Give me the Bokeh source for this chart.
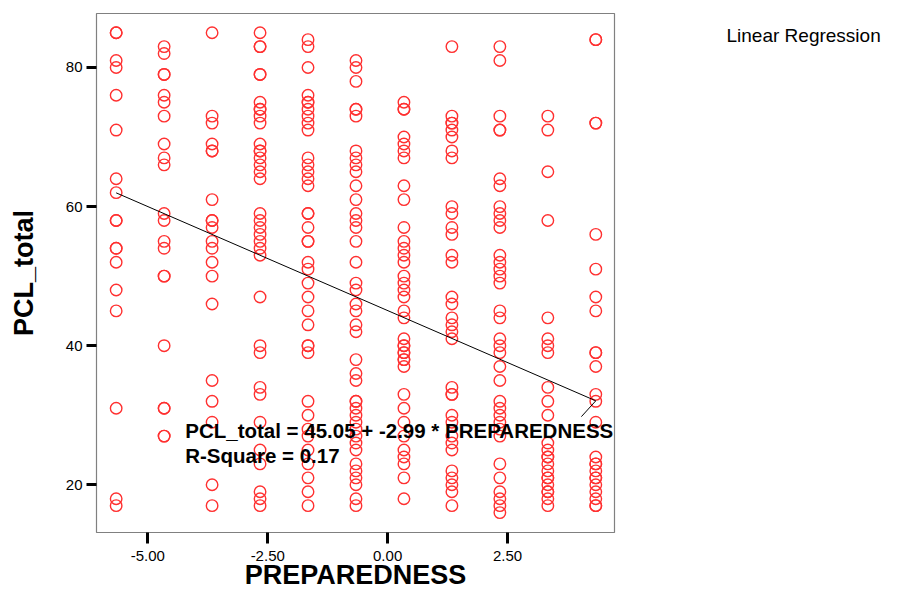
from bokeh.plotting import figure
from bokeh.models import Range1d, FixedTicker, NumeralTickFormatter, Label, ColumnDataSource, LinearAxis
from bokeh.embed import file_html
from bokeh.resources import INLINE

# ---- data ----
prep_levels = [-5.66, -4.66, -3.66, -2.66, -1.66, -0.66, 0.34, 1.34, 2.34, 3.34, 4.34]

pcl_lvl1 = [85, 85, 81, 80, 76, 71, 64, 62, 58, 58, 54, 54, 52, 48, 45, 31, 18, 17]
pcl_lvl2 = [83, 82, 79, 79, 76, 75, 73, 69, 67, 66, 59, 58, 55, 54, 50, 50, 40, 31, 31, 27, 27]
pcl_lvl3 = [85, 73, 72, 69, 68, 68, 61, 58, 58, 57, 55, 54, 52, 50, 46, 35, 32, 29, 20, 17]
pcl_lvl4 = [85, 83, 83, 79, 79, 75, 74, 74, 73, 72, 69, 68, 68, 67, 66, 65, 64, 59, 58, 57,
            56, 55, 54, 53, 47, 40, 39, 34, 33, 29, 25, 23, 19, 18, 17]
pcl_lvl5 = [84, 83, 80, 76, 75, 75, 74, 73, 72, 71, 67, 66, 65, 64, 63, 59, 59, 57, 55, 55,
            52, 51, 49, 47, 45, 43, 40, 40, 39, 32, 30, 28, 27, 25, 23, 21, 19, 17]
pcl_lvl6 = [81, 80, 78, 74, 74, 73, 68, 67, 66, 65, 63, 61, 59, 58, 57, 55, 52, 49, 48, 46,
            45, 43, 42, 38, 36, 35, 32, 32, 31, 30, 29, 28, 27, 26, 25, 23, 22, 21, 20, 18, 17]
pcl_lvl7 = [75, 74, 74, 70, 69, 68, 67, 63, 61, 57, 55, 54, 53, 52, 50, 49, 48, 47, 45, 44,
            41, 40, 39, 40, 39, 38, 38, 37, 33, 31, 29, 27, 25, 24, 23, 21, 18]
pcl_lvl8 = [83, 73, 72, 72, 71, 70, 68, 67, 60, 59, 57, 56, 53, 52, 47, 46, 44, 43, 42, 41,
            34, 33, 33, 30, 29, 27, 26, 25, 22, 21, 20, 19, 17]
pcl_lvl9 = [83, 81, 73, 71, 71, 64, 63, 60, 59, 58, 57, 53, 52, 51, 50, 49, 45, 44, 41, 40,
            39, 37, 35, 32, 31, 30, 29, 28, 27, 23, 21, 19, 18, 17, 16]
pcl_lvl10 = [73, 71, 65, 58, 44, 41, 40, 39, 34, 32, 30, 26, 25, 24, 24, 23, 22, 21, 21, 20,
             19, 19, 18, 17]
pcl_lvl11 = [84, 84, 72, 72, 56, 51, 47, 45, 39, 39, 37, 33, 32, 29, 24, 23, 23, 22, 21, 21,
             20, 19, 18, 17, 17]

pcl_columns = [pcl_lvl1, pcl_lvl2, pcl_lvl3, pcl_lvl4, pcl_lvl5, pcl_lvl6,
               pcl_lvl7, pcl_lvl8, pcl_lvl9, pcl_lvl10, pcl_lvl11]

fit_intercept = 45.05
fit_slope = -2.99
r_square = 0.17
legend_label = "Linear Regression"

x_ticks = [-5.0, -2.5, 0.0, 2.5]
y_ticks = [20, 40, 60, 80]

# ---- build ----
xs, ys = [], []
for lvl, col in zip(prep_levels, pcl_columns):
    xs.extend([lvl] * len(col))
    ys.extend(col)
src = ColumnDataSource(dict(x=xs, y=ys))

FONT = "Liberation Sans"

p = figure(width=883, height=595, output_backend="svg", toolbar_location=None,
           x_range=Range1d(-6.07, 4.73), y_range=Range1d(13.14, 87.76),
           min_border_left=96, min_border_right=268, min_border_top=13, min_border_bottom=63)

p.xgrid.visible = False
p.ygrid.visible = False
p.outline_line_color = "#808080"
p.outline_line_width = 1.2
p.background_fill_color = "white"
p.border_fill_color = "white"

for ax in (p.xaxis[0], p.yaxis[0]):
    ax.axis_line_color = None
    ax.major_tick_line_color = "black"
    ax.major_tick_line_width = 3
    ax.major_tick_in = 0
    ax.minor_tick_line_color = None
    ax.major_label_text_font = FONT
    ax.major_label_text_font_size = "15px"
    ax.major_label_text_color = "black"
    ax.axis_label_text_font = FONT
    ax.axis_label_text_font_size = "27px"
    ax.axis_label_text_font_style = "bold"
    ax.axis_label_text_color = "black"

p.xaxis[0].ticker = FixedTicker(ticks=x_ticks)
p.xaxis[0].formatter = NumeralTickFormatter(format="0.00")
p.xaxis[0].major_tick_out = 11
p.xaxis[0].major_label_standoff = 7
p.xaxis[0].axis_label = "PREPAREDNESS"
p.xaxis[0].axis_label_standoff = -4

p.yaxis[0].ticker = FixedTicker(ticks=y_ticks)
p.yaxis[0].formatter = NumeralTickFormatter(format="0")
p.yaxis[0].major_tick_out = 10
p.yaxis[0].major_label_standoff = 4
p.yaxis[0].axis_label = "PCL_total"
p.yaxis[0].axis_label_standoff = 24

p.scatter("x", "y", source=src, marker="circle", size=11.5, fill_color=None,
          line_color="#ff3030", line_width=1.4)

x_lo, x_hi = min(prep_levels), max(prep_levels)
p.line([x_lo, x_hi], [fit_intercept + fit_slope * x_lo, fit_intercept + fit_slope * x_hi],
       line_color="black", line_width=1)

# leader from the equation label to the end of the fitted line
leader_x0, leader_y0 = 4.04, 29.8
p.line([leader_x0, x_hi], [leader_y0, fit_intercept + fit_slope * x_hi],
       line_color="black", line_width=1)

eq_text = f"PCL_total = {fit_intercept:.2f} + {fit_slope:.2f} * PREPAREDNESS"
rs_text = f"R-Square = {r_square:.2f}"
p.add_layout(Label(x=-4.22, y=27.8, text=eq_text, text_font=FONT, text_font_size="20.5px",
                   text_font_style="bold", text_baseline="alphabetic", text_color="black"))
p.add_layout(Label(x=-4.22, y=24.2, text=rs_text, text_font=FONT, text_font_size="20.5px",
                   text_font_style="bold", text_baseline="alphabetic", text_color="black"))

# legend text at the top right, drawn as the single label of a bare right-hand axis
legend_pos = 84.54
legend_axis = LinearAxis(ticker=FixedTicker(ticks=[legend_pos]),
                         major_label_overrides={legend_pos: legend_label},
                         axis_line_color=None, major_tick_line_color=None,
                         minor_tick_line_color=None, major_tick_out=0, major_tick_in=0,
                         major_label_standoff=112, major_label_text_font=FONT,
                         major_label_text_font_size="19px", major_label_text_color="black")
p.add_layout(legend_axis, "right")

open("out.html", "w").write(file_html(p, INLINE))
